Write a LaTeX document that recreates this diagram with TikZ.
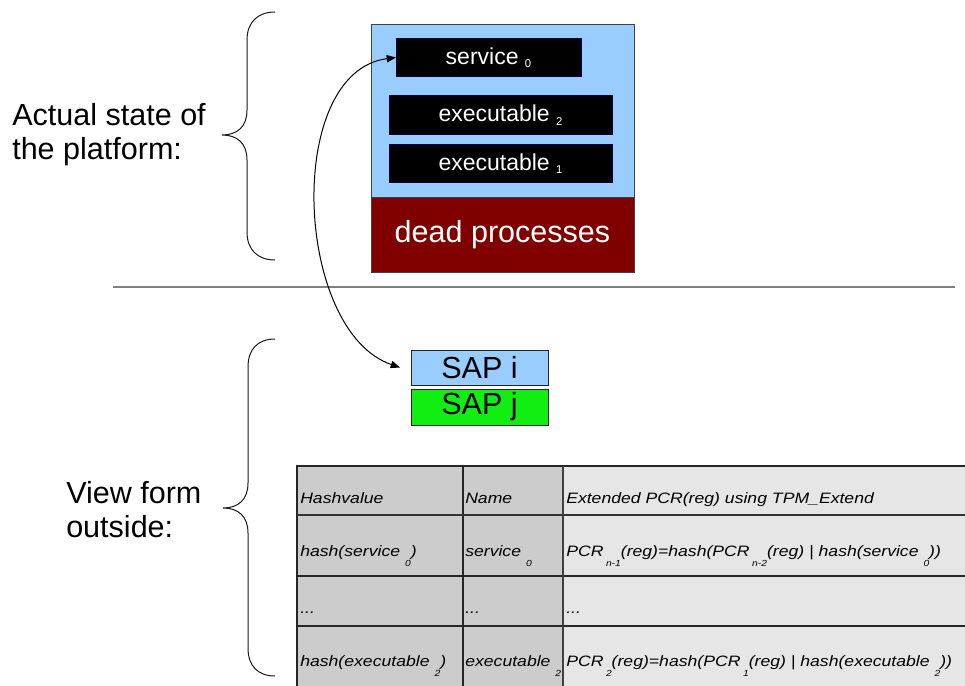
\documentclass[tikz,border=0pt]{standalone}
\usepackage{fontspec}
\setmainfont{Liberation Sans}
\newfontfamily\tabfont{Liberation Sans}[FakeStretch=1.17]
\usetikzlibrary{arrows.meta}

\definecolor{skyfill}{HTML}{99CCFF}
\definecolor{deadred}{HTML}{800000}
\definecolor{sapgreen}{HTML}{11EE11}
\definecolor{cellgray}{HTML}{CCCCCC}
\definecolor{celllight}{HTML}{E6E6E6}
\definecolor{rulegray}{HTML}{808080}

% lowered subscripts used in the boxes and in the table
\newcommand\boxsub[1]{\raisebox{-2.5pt}{\fontsize{8.5pt}{9pt}\selectfont #1}}
\newcommand\tabsub[1]{\raisebox{-7.5pt}{\fontsize{6.6pt}{7pt}\selectfont #1}}

\begin{document}
\begin{tikzpicture}[x=0.75pt,y=-0.75pt,
  area/.style={inner sep=0pt, outer sep=0pt, draw=black!75, line width=0.75pt},
  proc/.style={area, fill=black, draw=black!70!blue, text=white,
    minimum width=167.25pt, minimum height=29pt,
    font=\fontsize{17.25pt}{20pt}\selectfont},
  sap/.style={area, draw=black!85, minimum width=102.75pt,
    font=\fontsize{22.9pt}{26pt}\selectfont},
  bigtext/.style={anchor=base west, inner sep=0pt,
    font=\fontsize{22.9pt}{26pt}\selectfont},
  cell/.style={anchor=base west, inner sep=0pt,
    font=\tabfont\itshape\fontsize{11.3pt}{13pt}\selectfont},
  tabline/.style={line width=0.9pt, draw=black!85},
  brace/.style={line width=0.75pt, draw=black!90},
  link/.style={line width=0.75pt, >={Triangle[length=7pt,width=5.5pt]}, <->}
]
% canvas
\fill[white] (0,0) rectangle (965,686);
\path[use as bounding box] (0,0) rectangle (965,686);

% platform: running processes on top of dead processes
\node[area, fill=skyfill, minimum width=197.25pt, minimum height=129.75pt]
  (plat) at (502.5,110.5) {};
\node[area, fill=deadred, text=white, minimum width=197.25pt,
      minimum height=56.25pt, font=\fontsize{22.9pt}{26pt}\selectfont]
  (dead) at (502.5,234.5) {dead processes};
\node[proc, minimum width=138.75pt] (svc) at (488.5,57.5) {service \boxsub{0}};
\node[proc] (exetwo) at (500.5,115) {executable \boxsub{2}};
\node[proc] (exeone) at (500.5,163.5) {executable \boxsub{1}};

% separator between the two views
\draw[line width=1.5pt, rulegray] (113,287) -- (955,287);

% side labels
\node[bigtext] (acta) at (12,125) {Actual state of};
\node[bigtext] (actb) at (12,159) {the platform:};
\node[bigtext] (viewa) at (66,503) {View form};
\node[bigtext] (viewb) at (66,537) {outside:};

% braces
\draw[brace] (275,12) .. controls (258,12) and (247,22) .. (247,40)
  -- (247,110) .. controls (247,127) and (237,135) .. (222,135)
  .. controls (237,135) and (247,143) .. (247,160)
  -- (247,232) .. controls (247,250) and (258,260) .. (275,260);
\draw[brace] (275,339) .. controls (258,339) and (248,349) .. (248,367)
  -- (248,483) .. controls (248,500) and (238,508) .. (223,508)
  .. controls (238,508) and (248,516) .. (248,533)
  -- (248,648) .. controls (248,666) and (258,676) .. (275,676);

% service access points
\node[sap, fill=skyfill, minimum height=26.25pt] (sapi) at (479.5,367.5) {SAP i};
\node[sap, fill=sapgreen, minimum height=27pt] (sapj) at (479.5,407) {SAP j};

\coordinate (sapin) at ([xshift=-8.25pt]sapi.west);
\draw[link] (svc.west) .. controls (284,72) and (294,331) .. (sapin);

% measurement table
\fill[cellgray] (297,466) rectangle (563,686);
\fill[celllight] (563,466) rectangle (965,686);
\draw[tabline] (297,686) -- (297,466) -- (965,466);
\draw[tabline] (463,466) -- (463,686);
\draw[tabline] (297,576) -- (965,576);
\draw[tabline] (297,626) -- (965,626);
\draw[line width=1.6pt, draw=black!80] (297,515) -- (965,515);
\draw[line width=2pt, draw=black!75] (563,466) -- (563,686);

\node[cell] (ha) at (300,503) {Hashvalue};
\node[cell] (hb) at (465,503) {Name};
\node[cell] (hc) at (566,503) {Extended PCR(reg) using TPM\_Extend};

\node[cell] (ra) at (300,556) {hash(service \tabsub{0})};
\node[cell] (rb) at (465,556) {service \tabsub{0}};
\node[cell] (rc) at (566,556) {PCR\,\tabsub{n-1}(reg)=hash(PCR\,\tabsub{n-2}(reg) | hash(service \tabsub{0}))};

\node[cell] (da) at (300,613) {...};
\node[cell] (db) at (465,613) {...};
\node[cell] (dc) at (566,613) {...};

\node[cell] (ea) at (300,666) {hash(executable \tabsub{2})};
\node[cell] (eb) at (465,666) {executable \tabsub{2}};
\node[cell] (ec) at (566,666) {PCR\,\tabsub{2}(reg)=hash(PCR\,\tabsub{1}(reg) | hash(executable \tabsub{2}))};
\end{tikzpicture}
\end{document}
